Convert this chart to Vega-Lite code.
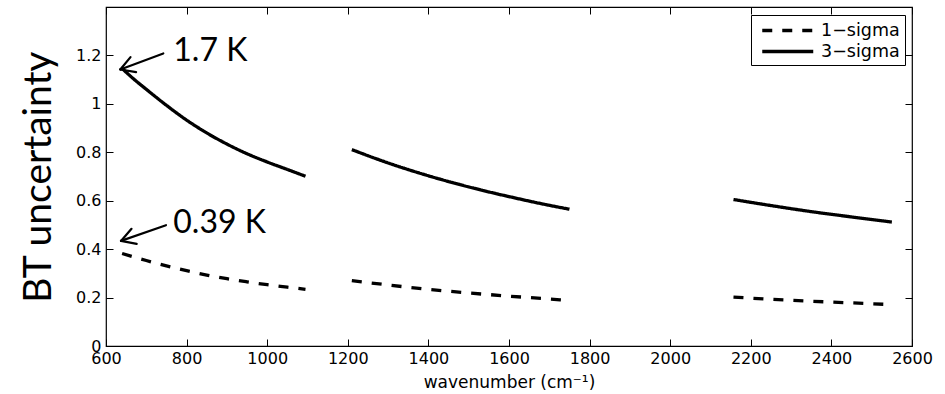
{
  "$schema": "https://vega.github.io/schema/vega-lite/v6.json",
  "width": 806,
  "height": 339,
  "autosize": {"type": "none"},
  "padding": {"left": 106, "top": 7, "right": 33, "bottom": 48},
  "background": "#ffffff",
  "config": {
    "view": {"stroke": "#000000", "strokeWidth": 1.2},
    "font": "DejaVu Sans"
  },
  "datasets": {
    "curves": [
      {"wn": 640, "bt": 1.146, "sigma": "3−sigma", "band": "a"},
      {"wn": 670, "bt": 1.101, "sigma": "3−sigma", "band": "a"},
      {"wn": 700, "bt": 1.060, "sigma": "3−sigma", "band": "a"},
      {"wn": 750, "bt": 0.994, "sigma": "3−sigma", "band": "a"},
      {"wn": 800, "bt": 0.933, "sigma": "3−sigma", "band": "a"},
      {"wn": 850, "bt": 0.880, "sigma": "3−sigma", "band": "a"},
      {"wn": 900, "bt": 0.834, "sigma": "3−sigma", "band": "a"},
      {"wn": 950, "bt": 0.794, "sigma": "3−sigma", "band": "a"},
      {"wn": 1000, "bt": 0.760, "sigma": "3−sigma", "band": "a"},
      {"wn": 1050, "bt": 0.729, "sigma": "3−sigma", "band": "a"},
      {"wn": 1095, "bt": 0.701, "sigma": "3−sigma", "band": "a"},
      {"wn": 1210, "bt": 0.811, "sigma": "3−sigma", "band": "b"},
      {"wn": 1300, "bt": 0.756, "sigma": "3−sigma", "band": "b"},
      {"wn": 1400, "bt": 0.703, "sigma": "3−sigma", "band": "b"},
      {"wn": 1500, "bt": 0.657, "sigma": "3−sigma", "band": "b"},
      {"wn": 1600, "bt": 0.617, "sigma": "3−sigma", "band": "b"},
      {"wn": 1700, "bt": 0.581, "sigma": "3−sigma", "band": "b"},
      {"wn": 1750, "bt": 0.565, "sigma": "3−sigma", "band": "b"},
      {"wn": 2157, "bt": 0.605, "sigma": "3−sigma", "band": "c"},
      {"wn": 2250, "bt": 0.580, "sigma": "3−sigma", "band": "c"},
      {"wn": 2350, "bt": 0.555, "sigma": "3−sigma", "band": "c"},
      {"wn": 2450, "bt": 0.533, "sigma": "3−sigma", "band": "c"},
      {"wn": 2550, "bt": 0.512, "sigma": "3−sigma", "band": "c"},
      {"wn": 640, "bt": 0.382, "sigma": "1−sigma", "band": "a"},
      {"wn": 670, "bt": 0.367, "sigma": "1−sigma", "band": "a"},
      {"wn": 700, "bt": 0.353, "sigma": "1−sigma", "band": "a"},
      {"wn": 750, "bt": 0.331, "sigma": "1−sigma", "band": "a"},
      {"wn": 800, "bt": 0.311, "sigma": "1−sigma", "band": "a"},
      {"wn": 850, "bt": 0.293, "sigma": "1−sigma", "band": "a"},
      {"wn": 900, "bt": 0.278, "sigma": "1−sigma", "band": "a"},
      {"wn": 950, "bt": 0.265, "sigma": "1−sigma", "band": "a"},
      {"wn": 1000, "bt": 0.253, "sigma": "1−sigma", "band": "a"},
      {"wn": 1050, "bt": 0.243, "sigma": "1−sigma", "band": "a"},
      {"wn": 1095, "bt": 0.234, "sigma": "1−sigma", "band": "a"},
      {"wn": 1210, "bt": 0.270, "sigma": "1−sigma", "band": "b"},
      {"wn": 1300, "bt": 0.252, "sigma": "1−sigma", "band": "b"},
      {"wn": 1400, "bt": 0.234, "sigma": "1−sigma", "band": "b"},
      {"wn": 1500, "bt": 0.219, "sigma": "1−sigma", "band": "b"},
      {"wn": 1600, "bt": 0.206, "sigma": "1−sigma", "band": "b"},
      {"wn": 1700, "bt": 0.194, "sigma": "1−sigma", "band": "b"},
      {"wn": 1750, "bt": 0.188, "sigma": "1−sigma", "band": "b"},
      {"wn": 2157, "bt": 0.202, "sigma": "1−sigma", "band": "c"},
      {"wn": 2250, "bt": 0.193, "sigma": "1−sigma", "band": "c"},
      {"wn": 2350, "bt": 0.185, "sigma": "1−sigma", "band": "c"},
      {"wn": 2450, "bt": 0.178, "sigma": "1−sigma", "band": "c"},
      {"wn": 2550, "bt": 0.171, "sigma": "1−sigma", "band": "c"}
    ],
    "arrows": [
      {"x1": 635.5, "y1": 1.142, "x2": 742.2, "y2": 1.208},
      {"x1": 635.5, "y1": 1.142, "x2": 660.8, "y2": 1.193},
      {"x1": 635.5, "y1": 1.142, "x2": 674.7, "y2": 1.131},
      {"x1": 637.2, "y1": 0.434, "x2": 748.8, "y2": 0.499},
      {"x1": 637.2, "y1": 0.434, "x2": 663.3, "y2": 0.484},
      {"x1": 637.2, "y1": 0.434, "x2": 676.2, "y2": 0.422}
    ],
    "notes": [
      {"x": 767, "y": 1.175, "label": "1.7 K"},
      {"x": 767, "y": 0.465, "label": "0.39 K"}
    ]
  },
  "layer": [
    {
      "data": {"name": "curves"},
      "mark": {"type": "line", "strokeWidth": 3.3, "color": "#000000", "interpolate": "monotone"},
      "encoding": {
        "x": {
          "field": "wn", "type": "quantitative",
          "scale": {"domain": [600, 2600], "nice": false, "zero": false},
          "axis": {
            "orient": "bottom",
            "values": [600, 800, 1000, 1200, 1400, 1600, 1800, 2000, 2200, 2400, 2600],
            "format": "d", "tickSize": -7, "tickColor": "#000000", "tickWidth": 1,
            "domain": false, "grid": false,
            "labelFont": "DejaVu Sans", "labelFontSize": 16, "labelColor": "#000000", "labelPadding": 11,
            "labelFlush": false, "labelOverlap": false,
            "title": "wavenumber (cm⁻¹)", "titleFont": "DejaVu Sans", "titleFontSize": 17,
            "titleFontWeight": "normal", "titleColor": "#000000",
            "titleX": 403, "titleY": 41.5, "titleBaseline": "alphabetic", "titleAlign": "center"
          }
        },
        "y": {
          "field": "bt", "type": "quantitative",
          "scale": {"domain": [0, 1.4], "nice": false},
          "axis": {
            "orient": "left",
            "values": [0, 0.2, 0.4, 0.6, 0.8, 1, 1.2],
            "format": "~g", "tickSize": -7, "tickColor": "#000000", "tickWidth": 1,
            "domain": false, "grid": false,
            "labelFont": "DejaVu Sans", "labelFontSize": 16, "labelColor": "#000000", "labelPadding": 12,
            "labelFlush": false, "labelOverlap": false,
            "title": "BT uncertainty", "titleFont": "Lato", "titleFontSize": 39,
            "titleFontWeight": "normal", "titleColor": "#000000",
            "titleX": -56, "titleY": 169.7, "titleAngle": -90,
            "titleBaseline": "alphabetic", "titleAlign": "center"
          }
        },
        "strokeDash": {
          "field": "sigma", "type": "nominal",
          "scale": {"domain": ["1−sigma", "3−sigma"], "range": [[10, 10], [1, 0]]},
          "legend": {
            "orient": "none", "legendX": 645, "legendY": 8,
            "title": null,
            "strokeColor": "#000000", "fillColor": "#ffffff", "padding": 5, "cornerRadius": 0,
            "labelFont": "DejaVu Sans", "labelFontSize": 17.5, "labelColor": "#000000",
            "labelOffset": 44, "rowPadding": 2,
            "symbolType": "M-0.5,0H5.5", "symbolSize": 289, "symbolStrokeWidth": 3.5,
            "symbolStrokeColor": "#000000", "symbolFillColor": "transparent"
          }
        },
        "detail": {"field": "band", "type": "nominal"}
      }
    },
    {
      "data": {"name": "arrows"},
      "mark": {"type": "rule", "strokeWidth": 2.2, "color": "#000000", "strokeCap": "round"},
      "encoding": {
        "x": {
          "field": "x1", "type": "quantitative",
          "scale": {"domain": [600, 2600], "nice": false, "zero": false},
          "axis": {
            "orient": "top",
            "values": [600, 800, 1000, 1200, 1400, 1600, 1800, 2000, 2200, 2400, 2600],
            "labels": false, "tickSize": -7, "tickColor": "#000000", "tickWidth": 1,
            "domain": false, "grid": false, "title": null
          }
        },
        "y": {
          "field": "y1", "type": "quantitative",
          "scale": {"domain": [0, 1.4], "nice": false},
          "axis": {
            "orient": "right",
            "values": [0, 0.2, 0.4, 0.6, 0.8, 1, 1.2],
            "labels": false, "tickSize": -7, "tickColor": "#000000", "tickWidth": 1,
            "domain": false, "grid": false, "title": null
          }
        },
        "x2": {"field": "x2"},
        "y2": {"field": "y2"}
      }
    },
    {
      "data": {"name": "notes"},
      "mark": {"type": "text", "font": "Lato", "fontSize": 32, "color": "#000000", "align": "left", "baseline": "alphabetic"},
      "encoding": {
        "x": {"field": "x", "type": "quantitative", "axis": null},
        "y": {"field": "y", "type": "quantitative", "axis": null},
        "text": {"field": "label", "type": "nominal"}
      }
    }
  ],
  "resolve": {"axis": {"x": "independent", "y": "independent"}}
}
